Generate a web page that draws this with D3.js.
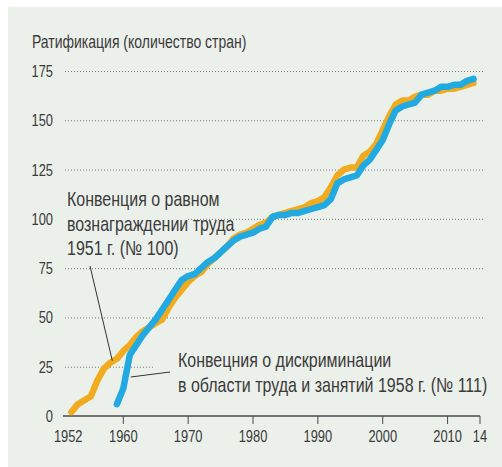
<!DOCTYPE html>
<html>
<head>
<meta charset="utf-8">
<script src="https://cdn.jsdelivr.net/npm/d3@7"></script>
<style>
  html, body { margin: 0; padding: 0; background: #ffffff; }
  svg { display: block; }
  text { font-family: "Liberation Sans", Arial, sans-serif; fill: #3b3b3b; }
</style>
</head>
<body>
<svg id="chart" width="502" height="467"></svg>
<script>
// Ratifications of ILO conventions, number of countries per year
const yearsC100 = d3.range(1952, 2015);
const valuesC100 = [
  2, 6, 8, 10, 18, 24, 27, 29, 33, 36,
  40, 43, 45, 47, 49, 55, 60, 64, 68, 71,
  73, 77, 80, 83, 86, 90, 92, 93, 95, 97,
  98, 101, 102, 103, 104, 105, 106, 108, 109, 111,
  116, 122, 125, 126, 126, 132, 134, 138, 145, 152,
  158, 160, 160, 162, 163, 163, 165, 165, 166, 166,
  167, 168, 169
];
const yearsC111 = d3.range(1959, 2015);
const valuesC111 = [
  6, 14, 31, 36, 41, 45, 49, 54, 59, 64,
  69, 71, 72, 75, 78, 80, 83, 86, 89, 91,
  92, 93, 95, 96, 101, 102, 102, 103, 103, 104,
  105, 106, 107, 110, 118, 120, 121, 122, 127, 130,
  135, 140, 148, 155, 157, 158, 159, 163, 164, 165,
  167, 167, 168, 168, 170, 171
];
const yTicks = [0, 25, 50, 75, 100, 125, 150, 175];
const xTicks = [1960, 1970, 1980, 1990, 2000, 2010, 2015];
const xTickLabels = ["1960", "1970", "1980", "1990", "2000", "2010", "14"];
const firstYearLabel = "1952";

const title = "Ратификация (количество стран)";
const note100 = ["Конвенция о равном", "вознаграждении труда", "1951 г. (№ 100)"];
const note111 = ["Конвецния о дискриминации", "в области труда и занятий 1958 г. (№ 111)"];

const colors = { c100: "#f1ab1f", c111: "#21a9e1", bg: "#ecf0eb", grid: "#7a7a7a", axis: "#4a4a4a" };
const condense = 0.78;

const svg = d3.select("#chart");
svg.append("rect").attr("x", 8).attr("y", 7).attr("width", 494).attr("height", 460).attr("fill", colors.bg);

const x = d3.scaleLinear().domain([1950.7, 2015]).range([63, 480]);
const y = d3.scaleLinear().domain([0, 175]).range([416, 71]);

// condensed text helper
function label(parent, tx, ty, str, size, anchor = "start", sx = condense) {
  return parent.append("text")
    .attr("transform", `translate(${tx},${ty}) scale(${sx},1)`)
    .attr("text-anchor", anchor).attr("font-size", size).text(str);
}

// title
label(svg, 32, 48, title, 17.5, "start", 0.8);

// dotted gridlines
svg.append("g").selectAll("line").data(yTicks.filter(d => d > 0)).join("line")
  .attr("x1", 65).attr("x2", 483)
  .attr("y1", d => y(d) + 0.5).attr("y2", d => y(d) + 0.5)
  .attr("stroke", colors.grid).attr("stroke-width", 1).attr("stroke-dasharray", "1,2");

// y tick labels
const yLab = svg.append("g");
yTicks.forEach(d => label(yLab, 53, y(d) + 6, String(d), 16.5, "end"));

// background panels behind the annotations
svg.append("rect").attr("x", 62).attr("y", 185).attr("width", 124).attr("height", 75).attr("fill", colors.bg);
svg.append("rect").attr("x", 155).attr("y", 345).attr("width", 335).attr("height", 52).attr("fill", colors.bg);

// x axis
const xAxis = svg.append("g");
xAxis.append("line").attr("x1", 63).attr("x2", x(2015)).attr("y1", 416).attr("y2", 416)
  .attr("stroke", colors.axis).attr("stroke-width", 1.3);
xAxis.selectAll("line.tick").data(xTicks).join("line").attr("class", "tick")
  .attr("x1", d => x(d)).attr("x2", d => x(d)).attr("y1", 416).attr("y2", 424)
  .attr("stroke", colors.axis).attr("stroke-width", 1);
xTicks.forEach((d, i) => label(xAxis, x(d), 442, xTickLabels[i], 16.5, "middle"));
label(xAxis, x(1951.5), 442, firstYearLabel, 16.5, "middle");

// series lines
const line = d3.line().x(d => x(d[0])).y(d => y(d[1]));
const seriesC100 = yearsC100.map((yr, i) => [yr, valuesC100[i]]);
const seriesC111 = yearsC111.map((yr, i) => [yr, valuesC111[i]]);
[[seriesC100, colors.c100], [seriesC111, colors.c111]].forEach(([data, c]) => {
  svg.append("path").datum(data).attr("d", line)
    .attr("fill", "none").attr("stroke", c).attr("stroke-width", 6.5)
    .attr("stroke-linejoin", "round").attr("stroke-linecap", "round");
});

// leader lines
svg.append("line").attr("x1", 90).attr("y1", 266).attr("x2", x(1958) + 2).attr("y2", y(valuesC100[6]) - 2)
  .attr("stroke", "#333").attr("stroke-width", 1);
svg.append("line").attr("x1", x(1961) + 1).attr("y1", 377).attr("x2", 170).attr("y2", 372)
  .attr("stroke", "#333").attr("stroke-width", 1);

// annotation text
const n100 = svg.append("g");
note100.forEach((d, i) => label(n100, 67, 206 + i * 24.5, d, 20.5));
const n111 = svg.append("g");
note111.forEach((d, i) => label(n111, 178, 366.5 + i * 25, d, 20.5));
</script>
</body>
</html>
